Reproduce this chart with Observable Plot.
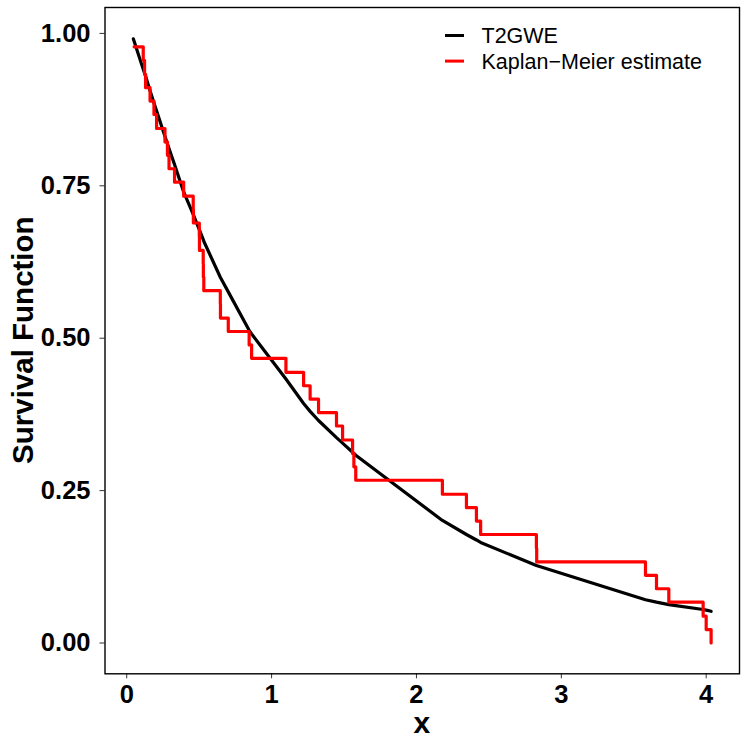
<!DOCTYPE html>
<html><head><meta charset="utf-8">
<script src="https://cdn.jsdelivr.net/npm/d3@7"></script>
<script src="https://cdn.jsdelivr.net/npm/@observablehq/plot@0.6"></script>
<style>body{margin:0;background:#fff}#chart{width:747px;height:747px}</style>
</head><body><div id="chart"></div>
<script>
// Kaplan-Meier estimate (event times and survival after each event)
const kmTime = [0.051,0.114,0.123,0.130,0.161,0.188,0.206,0.264,0.281,0.292,
  0.330,0.393,0.459,0.460,0.501,0.502,0.528,0.529,0.532,0.646,
  0.647,0.701,0.845,0.862,1.099,1.221,1.266,1.324,1.448,1.490,
  1.559,1.568,1.581,2.179,2.345,2.414,2.443,2.828,2.830,3.581,
  3.657,3.742,3.979,4.000,4.034];
const kmSurv = [0.978,0.956,0.933,0.911,0.889,0.867,0.844,0.822,0.800,0.778,
  0.756,0.733,0.711,0.689,0.667,0.644,0.622,0.600,0.578,0.556,
  0.533,0.511,0.489,0.467,0.444,0.422,0.400,0.378,0.356,0.333,
  0.311,0.289,0.267,0.244,0.222,0.200,0.178,0.156,0.133,0.111,
  0.089,0.067,0.044,0.022,0.000];
// T2GWE fitted survival curve
const fitTime = [0.046,0.114,0.130,0.161,0.188,0.206,0.264,0.292,0.330,0.393,
  0.459,0.501,0.528,0.532,0.646,0.701,0.845,0.862,1.099,1.221,
  1.266,1.324,1.448,1.490,1.559,1.581,2.179,2.345,2.414,2.443,
  2.828,3.581,3.657,3.742,3.979,4.000,4.034];
const fitSurv = [0.991,0.941,0.930,0.906,0.886,0.873,0.831,0.811,0.785,0.740,
  0.703,0.678,0.662,0.659,0.600,0.576,0.513,0.507,0.433,0.393,
  0.380,0.365,0.337,0.328,0.313,0.308,0.201,0.178,0.169,0.165,
  0.127,0.071,0.067,0.063,0.055,0.054,0.052];
const xTicks = [0,1,2,3,4];
const yTicks = [0,0.25,0.5,0.75,1];
const seriesNames = ["T2GWE","Kaplan\u2212Meier estimate"];
const seriesColors = ["#000000","#FF0000"];
const xTitle = "x";
const yTitle = "Survival Function";

const km = kmTime.map((t,i)=>({t, s:kmSurv[i]}));
const fit = fitTime.map((t,i)=>({t, s:fitSurv[i]}));
const font = "'Liberation Sans', Arial, Helvetica, sans-serif";
const tickFont = 25.5;

const W = 747, H = 747, mL = 104.5, mR = 8, mT = 7, mB = 73.7;

const chart = Plot.plot({
  width: W, height: H,
  marginLeft: mL, marginRight: mR, marginTop: mT, marginBottom: mB,
  x: {domain: [-0.15, 4.23]},
  y: {domain: [-0.0505, 1.0425]},
  style: {fontFamily: font, background: "#fff", color: "#000", overflow: "visible"},
  marks: [
    Plot.axisX({ticks: xTicks, tickSize: 5, tickPadding: 6, fontSize: tickFont, fontWeight: "bold",
      stroke: "#333", fill: "#000", label: null, tickFormat: d3.format("d")}),
    Plot.axisY({ticks: yTicks, tickSize: 5, tickPadding: 9.5, fontSize: tickFont, fontWeight: "bold",
      stroke: "#333", fill: "#000", label: null, tickFormat: d3.format(".2f")}),
    Plot.line(fit, {x: "t", y: "s", stroke: seriesColors[0], strokeWidth: 3.2, curve: "linear"}),
    Plot.line(km, {x: "t", y: "s", stroke: seriesColors[1], strokeWidth: 3.2, curve: "step-after"}),
    Plot.frame({stroke: "#000", strokeWidth: 1.4})
  ]
});
document.getElementById("chart").appendChild(chart);

const svg = d3.select(chart);
svg.selectAll('[aria-label="x-axis tick label"], [aria-label="y-axis tick label"]')
  .style("font-size", tickFont + "px").style("font-weight", "bold").attr("fill", "#000")
  .selectAll("text").style("font-size", tickFont + "px").style("font-weight", "bold");
// axis titles
svg.append("text").text(xTitle)
  .attr("x", mL + (W - mL - mR) / 2).attr("y", 733)
  .attr("text-anchor", "middle").attr("font-family", font)
  .style("font-size", "30px").style("font-weight", "bold").attr("fill", "#000");
svg.append("text").text(yTitle)
  .attr("transform", `translate(32.5,${mT + (H - mT - mB) / 2}) rotate(-90)`)
  .attr("text-anchor", "middle").attr("font-family", font)
  .style("font-size", "29.5px").style("font-weight", "bold").attr("fill", "#000");
// legend
const lg = svg.append("g");
seriesNames.forEach((name, i) => {
  const cy = 35.5 + i * 25.6;
  lg.append("line").attr("x1", 445).attr("x2", 464).attr("y1", cy).attr("y2", cy)
    .attr("stroke", seriesColors[i]).attr("stroke-width", 3);
  lg.append("text").text(name).attr("x", 481.5).attr("y", cy + 7.7)
    .attr("text-anchor", "start")
    .attr("font-family", font).style("font-size", "21.5px").attr("fill", "#000");
});
</script>
</body></html>
